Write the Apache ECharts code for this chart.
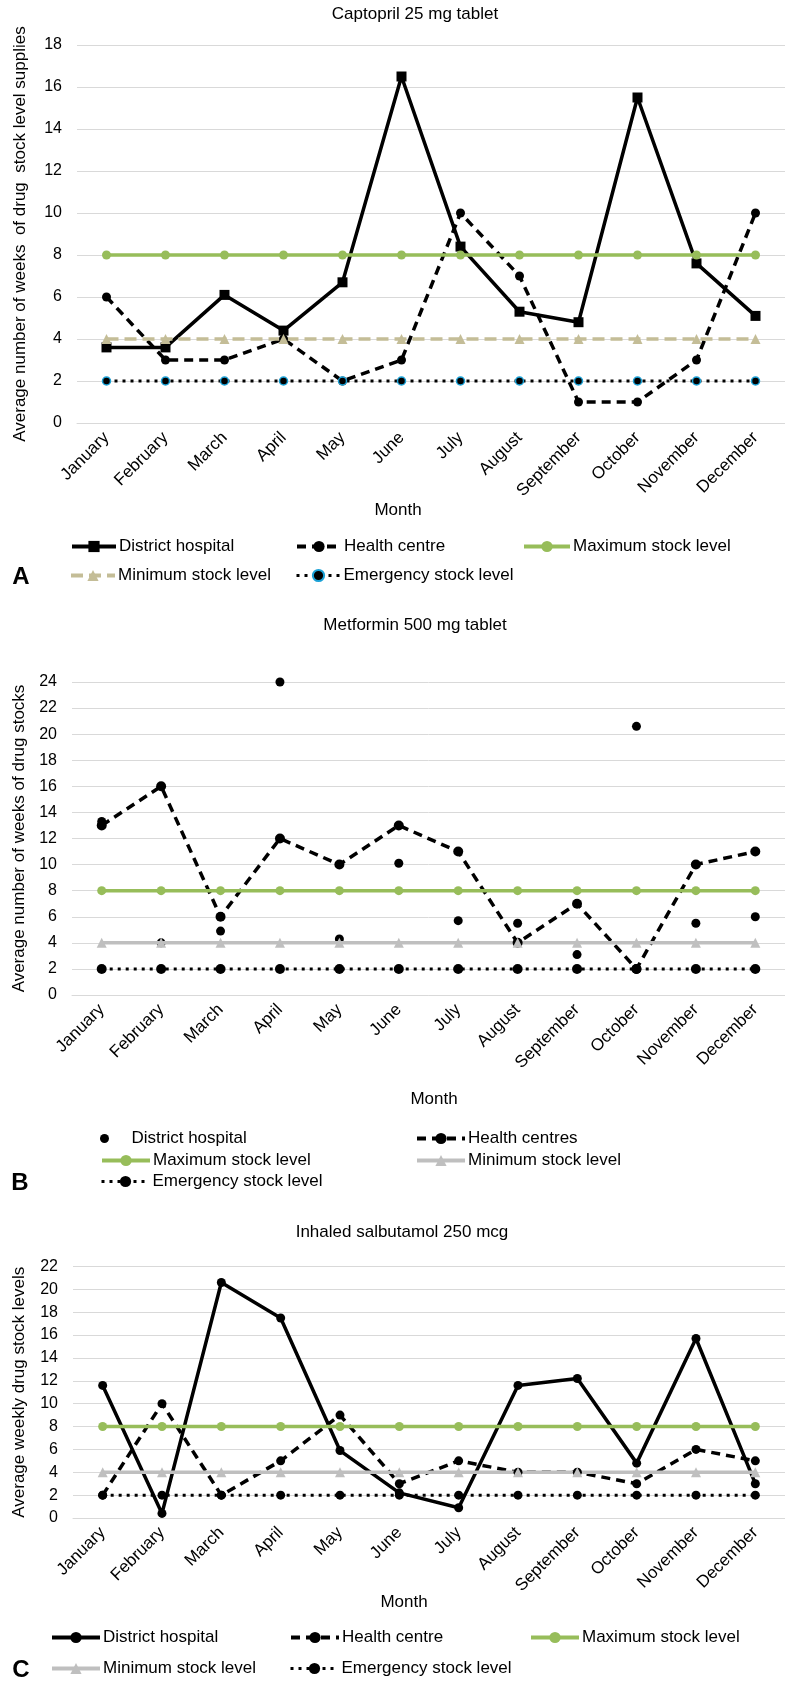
<!DOCTYPE html>
<html>
<head>
<meta charset="utf-8">
<script src="https://cdn.jsdelivr.net/npm/echarts@6/dist/echarts.min.js"></script>
<style>
html,body{margin:0;padding:0;background:#fff;}
#a,#b,#c{position:absolute;left:0;width:785px;}
#a{top:0;height:600px;}
#b{top:600px;height:600px;}
#c{top:1200px;height:482px;}
</style>
</head>
<body>
<div id="a"></div>
<div id="b"></div>
<div id="c"></div>
<script>
// ---------- data ----------
const months = ['January','February','March','April','May','June','July','August','September','October','November','December'];

// A: Captopril 25 mg tablet
const capDistrict = [3.6, 3.6, 6.1, 4.4, 6.7, 16.5, 8.4, 5.3, 4.8, 15.5, 7.6, 5.1];
const capHealth   = [6, 3, 3, 4, 2, 3, 10, 7, 1, 1, 3, 10];
const capMax      = [8, 8, 8, 8, 8, 8, 8, 8, 8, 8, 8, 8];
const capMin      = [4, 4, 4, 4, 4, 4, 4, 4, 4, 4, 4, 4];
const capEmerg    = [2, 2, 2, 2, 2, 2, 2, 2, 2, 2, 2, 2];

// B: Metformin 500 mg tablet
const metDistrict = [13.3, 4, 4.9, 24, 4.3, 10.1, 5.7, 5.5, 3.1, 20.6, 5.5, 6];
const metHealth   = [13, 16, 6, 12, 10, 13, 11, 4, 7, 2, 10, 11];
const metMax      = [8, 8, 8, 8, 8, 8, 8, 8, 8, 8, 8, 8];
const metMin      = [4, 4, 4, 4, 4, 4, 4, 4, 4, 4, 4, 4];
const metEmerg    = [2, 2, 2, 2, 2, 2, 2, 2, 2, 2, 2, 2];

// C: Inhaled salbutamol 250 mcg
const salDistrict = [11.6, 0.4, 20.6, 17.5, 5.9, 2.2, 0.9, 11.6, 12.2, 4.8, 15.7, 3];
const salHealth   = [2, 10, 2, 5, 9, 3, 5, 4, 4, 3, 6, 5];
const salMax      = [8, 8, 8, 8, 8, 8, 8, 8, 8, 8, 8, 8];
const salMin      = [4, 4, 4, 4, 4, 4, 4, 4, 4, 4, 4, 4];
const salEmerg    = [2, 2, 2, 2, 2, 2, 2, 2, 2, 2, 2, 2];

// ---------- styling helpers ----------
const FONT = '"Liberation Sans", Arial, Helvetica, sans-serif';
const GREEN = '#97BD5A';
const TAN = '#C4BD97';
const GRAY = '#BFBFBF';
const GRID = '#D9D9D9';

function txt(text, x, y, size, bold) {
  return {
    type: 'text', x: x, y: y, silent: true,
    style: { text: text, fill: '#000', align: 'center', verticalAlign: 'middle',
      font: (bold ? 'bold ' : '') + size + 'px ' + FONT }
  };
}
function leg(name, left, cy, w, lw, ih) {
  return {
    data: [name], left: left, top: cy - 10, itemWidth: w, itemHeight: ih || 14,
    padding: 0, itemGap: 0, selectedMode: false,
    lineStyle: { width: lw === undefined ? 4 : lw },
    textStyle: { fontSize: 17, color: '#000', fontFamily: FONT, padding: [0, 0, 0, -2] }
  };
}
function axes(gridCfg, max, nameText, nameGap) {
  return {
    grid: gridCfg,
    xAxis: {
      type: 'category', data: months, boundaryGap: true,
      axisLine: { show: true, lineStyle: { color: GRID, width: 1 } },
      axisTick: { show: false },
      axisLabel: { rotate: 45, margin: 12, interval: 0, fontSize: 17, color: '#000', fontFamily: FONT }
    },
    yAxis: {
      type: 'value', min: 0, max: max, interval: 2,
      name: nameText, nameLocation: 'middle', nameGap: nameGap,
      nameTextStyle: { fontSize: 17, color: '#000', fontFamily: FONT },
      axisLine: { show: false }, axisTick: { show: false },
      axisLabel: { margin: 15, fontSize: 16, color: '#000', fontFamily: FONT },
      splitLine: { lineStyle: { color: GRID, width: 1 } }
    }
  };
}
function lineSeries(name, data, color, lw, dash, symbol, size, extraItem) {
  return {
    type: 'line', name: name, data: data, symbol: symbol, symbolSize: size,
    showAllSymbol: true,
    lineStyle: { color: color, width: lw, type: dash, cap: 'butt' },
    itemStyle: Object.assign({ color: color, opacity: 1 }, extraItem || {})
  };
}

// ---------- Chart A ----------
const chA = echarts.init(document.getElementById('a'), null, { renderer: 'canvas' });
const baseA = axes({ left: 77, top: 45, width: 722, height: 378 }, 18,
  'Average number of weeks  of drug  stock level supplies', 48);
chA.setOption(Object.assign(baseA, {
  animation: false,
  graphic: [
    txt('Captopril 25 mg tablet', 415, 14, 17),
    txt('Month', 398, 510, 17),
    txt('A', 21, 577, 24, true)
  ],
  legend: [
    leg('District hospital', 70, 548, 44),
    leg('Health centre', 295, 548, 44),
    leg('Maximum stock level', 522, 548, 46),
    leg('Minimum stock level', 69, 577, 44),
    leg('Emergency stock level', 295, 577, 44, 3)
  ],
  series: [
    lineSeries('District hospital', capDistrict, '#000', 3.5, 'solid', 'rect', 10),
    lineSeries('Health centre', capHealth, '#000', 3.5, [9, 6], 'circle', 9),
    lineSeries('Maximum stock level', capMax, GREEN, 3.5, 'solid', 'circle', 9),
    lineSeries('Minimum stock level', capMin, TAN, 3.5, [12, 6], 'triangle', 10),
    lineSeries('Emergency stock level', capEmerg, '#000', 3, [3, 5], 'circle', 8,
      { borderColor: '#1BA1D6', borderWidth: 1.5 })
  ]
}));

// ---------- Chart B ----------
const chB = echarts.init(document.getElementById('b'), null, { renderer: 'canvas' });
const baseB = axes({ left: 72, top: 82, width: 725, height: 313 }, 24,
  'Average number of weeks of drug stocks', 42);
chB.setOption(Object.assign(baseB, {
  animation: false,
  graphic: [
    txt('Metformin 500 mg tablet', 415, 25, 17),
    txt('Month', 434, 499, 17),
    txt('B', 20, 583, 24, true)
  ],
  legend: [
    leg('District hospital', 100, 540, 48, 0, 9),
    leg('Health centres', 415, 540, 48),
    leg('Maximum stock level', 100, 562, 48),
    leg('Minimum stock level', 415, 562, 48),
    leg('Emergency stock level', 100, 583, 48, 3)
  ],
  series: [
    { type: 'scatter', name: 'District hospital', data: metDistrict, symbol: 'circle', symbolSize: 9,
      itemStyle: { color: '#000', opacity: 1 } },
    lineSeries('Health centres', metHealth, '#000', 3.5, [9, 6], 'circle', 10),
    lineSeries('Maximum stock level', metMax, GREEN, 3.5, 'solid', 'circle', 9),
    lineSeries('Minimum stock level', metMin, GRAY, 3.5, 'solid', 'triangle', 10),
    lineSeries('Emergency stock level', metEmerg, '#000', 3, [3, 5], 'circle', 10)
  ]
}));

// ---------- Chart C ----------
const chC = echarts.init(document.getElementById('c'), null, { renderer: 'canvas' });
const baseC = axes({ left: 73, top: 66.5, width: 723, height: 251.5 }, 22,
  'Average weekly drug stock levels', 45);
chC.setOption(Object.assign(baseC, {
  animation: false,
  graphic: [
    txt('Inhaled salbutamol 250 mcg', 402, 32, 17),
    txt('Month', 404, 402, 17),
    txt('C', 21, 470, 24, true)
  ],
  legend: [
    leg('District hospital', 50, 439, 48),
    leg('Health centre', 289, 439, 48),
    leg('Maximum stock level', 529, 439, 48),
    leg('Minimum stock level', 50, 470, 48),
    leg('Emergency stock level', 289, 470, 48, 3)
  ],
  series: [
    lineSeries('District hospital', salDistrict, '#000', 3.5, 'solid', 'circle', 9),
    lineSeries('Health centre', salHealth, '#000', 3.5, [9, 6], 'circle', 9),
    lineSeries('Maximum stock level', salMax, GREEN, 3.5, 'solid', 'circle', 9),
    lineSeries('Minimum stock level', salMin, GRAY, 3.5, 'solid', 'triangle', 10),
    lineSeries('Emergency stock level', salEmerg, '#000', 3, [3, 5], 'circle', 9)
  ]
}));
</script>
</body>
</html>
